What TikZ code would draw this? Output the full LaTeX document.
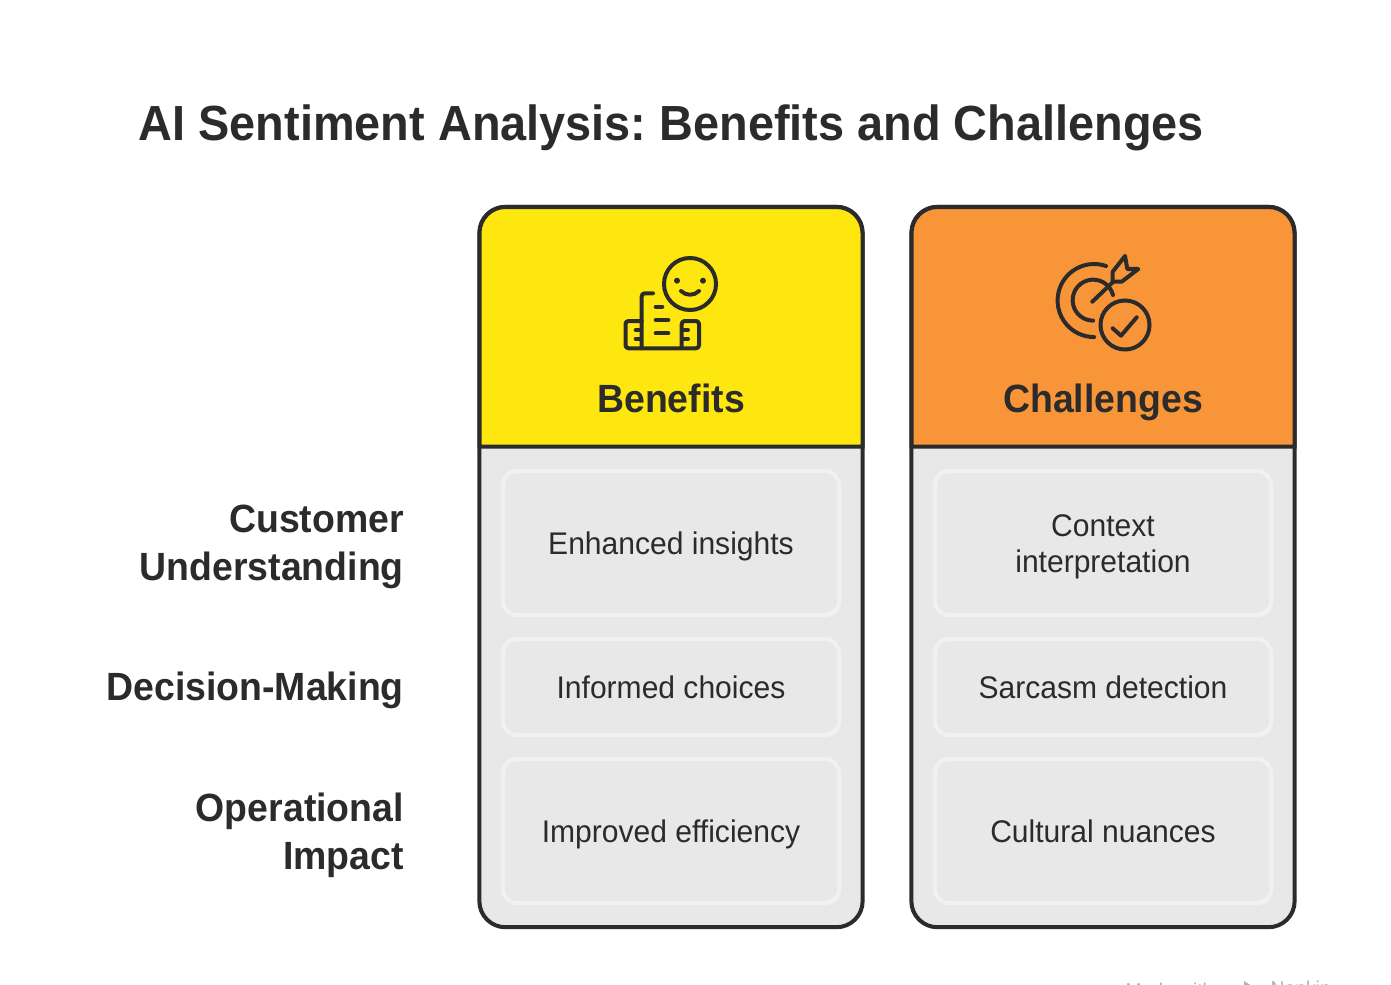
\documentclass[tikz,border=0pt]{standalone}
\usepackage{fontspec}
\setmainfont{Liberation Sans}[FakeStretch=0.96, BoldFeatures={FakeStretch=0.95}]
\usepackage{tikz}
\frenchspacing
\definecolor{ink}{HTML}{2B2B2B}
\definecolor{panel}{HTML}{E8E8E8}
\definecolor{rim}{HTML}{F1F1F1}
\definecolor{sun}{HTML}{FEE60F}
\definecolor{peach}{HTML}{F99539}
\tikzstyle{lift}=[execute at begin node={\rule{0pt}{.9em}}, execute at end node={\rule[-.21em]{0pt}{.21em}}]
\tikzstyle{card}=[fill=panel, draw=ink, line width=0.04cm, shape=rectangle, rounded corners=0.26cm, minimum width=3.83cm, minimum height=7.2cm]
\tikzstyle{head}=[draw=ink, line width=0.04cm]
\tikzstyle{words}=[style=lift, text=ink, align=center, inner sep=0pt, font=\fontsize{8.9}{10.24}\selectfont]
\tikzstyle{cell}=[style=words, execute at begin node={\rule{0pt}{.96em}}, draw=rim, line width=0.04cm, shape=rectangle, rounded corners=0.14cm, minimum width=3.36cm]
\tikzstyle{tall}=[style=cell, minimum height=1.44cm]
\tikzstyle{low}=[style=cell, minimum height=0.96cm]
\tikzstyle{side}=[style=lift, anchor=east, align=right, text=ink, inner sep=0pt, font=\fontsize{11.2}{13.66}\selectfont\bfseries]
\tikzstyle{caption}=[style=lift, text=ink, inner sep=0pt, font=\fontsize{11.2}{13.66}\selectfont\bfseries]
\tikzstyle{glyph}=[draw=ink, line width=0.04cm, line cap=round, line join=round]
\tikzstyle{madeby}=[text=black!30, inner sep=0pt, font=\fontsize{5.7}{7}\selectfont]

\begin{document}
\begin{tikzpicture}[x=0.01cm, y=-0.01cm]
	\clip (0, 0) rectangle (1391, 985);
	\node [style=lift, anchor=west, text=ink, inner sep=0pt, font=\fontsize{14.03}{17}\selectfont\bfseries] (title) at (138, 124) {AI Sentiment Analysis: Benefits and Challenges};

	\node [style=card] (card1) at (671, 567) {};
	\node [style=card] (card2) at (1103, 567) {};
	\draw [style=head, fill=sun] (479.5, 446.5) [rounded corners=0.26cm] |- (862.5, 207) -- (862.5, 300) [sharp corners] -- (862.5, 446.5) -- cycle;
	\draw [style=head, fill=peach] (911.5, 446.5) [rounded corners=0.26cm] |- (1294.5, 207) -- (1294.5, 300) [sharp corners] -- (1294.5, 446.5) -- cycle;
	\node [style=caption] (head1) at (671, 399) {Benefits};
	\node [style=caption] (head2) at (1103, 399) {Challenges};

	\node [style=tall] (box1) at (671, 543) {Enhanced insights};
	\node [style=low] (box2) at (671, 687) {Informed choices};
	\node [style=tall] (box3) at (671, 831) {Improved efficiency};
	\node [style=tall] (box4) at (1103, 543) {};
	\node [style=words] (text4) at (1103, 547) {Context\\interpretation};
	\node [style=low] (box5) at (1103, 687) {Sarcasm detection};
	\node [style=tall] (box6) at (1103, 831) {Cultural nuances};

	\node [style=side] (row1) at (404.5, 547) {Customer\\Understanding};
	\node [style=side] (row2) at (404.5, 687) {Decision-Making};
	\node [style=side] (row3) at (404.5, 835) {Operational\\Impact};

	\draw [style=glyph] (690, 284) circle [radius=0.26cm];
	\fill [ink] (677, 280.7) circle [radius=0.03cm];
	\fill [ink] (703, 280.7) circle [radius=0.03cm];
	\draw [style=glyph] (681, 291) .. controls (686, 296) and (694, 296) .. (699, 291);
	\draw [style=glyph, rounded corners=0.03cm] (653, 293.3) -- (641.7, 293.3) -- (641.7, 348.3);
	\draw [style=glyph, rounded corners=0.03cm] (641.7, 321) -- (625.5, 321) -- (625.5, 348.3) -- (699, 348.3) -- (699, 321) -- (681.7, 321) -- (681.7, 348.3);
	\draw [style=glyph] (655.7, 306.7) -- (662.3, 306.7);
	\draw [style=glyph] (655.7, 320) -- (668.3, 320);
	\draw [style=glyph] (655.7, 333.3) -- (668.3, 333.3);
	\draw [style=glyph] (635.7, 330) -- (640, 330);
	\draw [style=glyph] (635.7, 338.7) -- (640, 338.7);
	\draw [style=glyph] (683, 330) -- (688, 330);
	\draw [style=glyph] (683, 338.7) -- (688, 338.7);

	\draw [style=glyph] (1125, 325) circle [radius=0.245cm];
	\draw [style=glyph] (1112.7, 328.3) -- (1121, 335.7) -- (1136.7, 317.3);
	\draw [style=glyph] (1106, 266) arc [start angle=71, end angle=270, radius=0.365cm];
	\draw [style=glyph] (1113, 295) arc [start angle=14.5, end angle=270, radius=0.205cm];
	\draw [style=glyph] (1092.3, 301.7) -- (1113.3, 281.7);
	\draw [style=glyph] (1112.7, 281.7) -- (1112.7, 271.7) -- (1125, 256) -- (1127.3, 269) -- (1138.3, 269) -- (1121.7, 281.7) -- cycle;

	\node [style=madeby, anchor=west] (made) at (1125, 990) {Made with};
	\fill [black!30] (1244, 981) -- (1258, 990) -- (1244, 999) -- cycle;
	\node [style=madeby, anchor=west] (napkin) at (1270, 990) {Napkin};
\end{tikzpicture}
\end{document}
